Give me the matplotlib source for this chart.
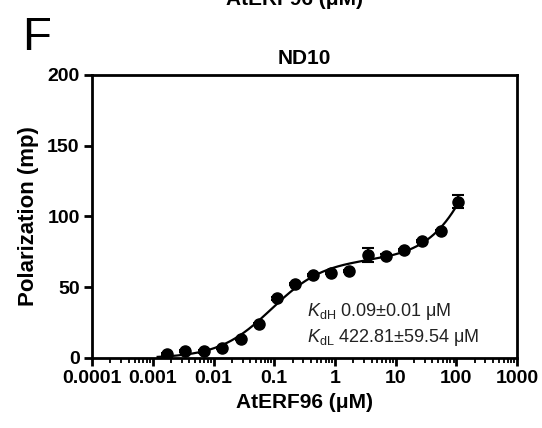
import numpy as np
import matplotlib
matplotlib.use('Agg')
import matplotlib.pyplot as plt
from matplotlib.ticker import LogLocator, NullFormatter, FixedLocator

plt.rcParams['font.family'] = ['Liberation Sans', 'DejaVu Sans']
plt.rcParams['mathtext.fontset'] = 'custom'
plt.rcParams['mathtext.rm'] = 'Liberation Sans'
plt.rcParams['mathtext.it'] = 'Liberation Sans:italic'

# data
conc = [0.00174, 0.0034, 0.0070, 0.0140, 0.0282, 0.0564, 0.110, 0.221, 0.430,
        0.855, 1.73, 3.52, 6.84, 13.5, 27.6, 55.6, 108]
polar = [2.6, 4.7, 4.5, 6.9, 13.1, 24.0, 42.0, 52.1, 58.3,
         60.1, 61.5, 72.4, 72.3, 76.0, 82.7, 89.4, 110.5]
sem = [0.8, 0.8, 0.8, 0.8, 0.8, 0.8, 0.8, 0.8, 0.8,
       0.8, 0.8, 5.0, 0.8, 0.8, 0.8, 0.8, 4.3]
kd_high = 0.09
kd_low = 422.81
xticks = [0.0001, 0.001, 0.01, 0.1, 1, 10, 100, 1000]
xtick_labels = ['0.0001', '0.001', '0.01', '0.1', '1', '10', '100', '1000']
yticks = [0, 50, 100, 150, 200]

# two-site binding curve, linear terms fitted with the Kd values fixed
x = np.array(conc)
y = np.array(polar)
M = np.column_stack([np.ones_like(x), x / (kd_high + x), x / (kd_low + x)])
coef = np.linalg.lstsq(M, y, rcond=None)[0]
xf = np.logspace(np.log10(0.0012), np.log10(115), 300)
yf = coef[0] + coef[1] * xf / (kd_high + xf) + coef[2] * xf / (kd_low + xf)

fig = plt.figure(figsize=(5.42, 4.28), dpi=100)
ax = fig.add_axes([0.170, 0.164, 0.784, 0.661])

ax.plot(xf, yf, color='black', lw=1.6, zorder=2)
ax.errorbar(conc, polar, yerr=sem, fmt='o', color='black', ms=8,
            capsize=4, elinewidth=1.5, capthick=1.5, zorder=3)

ax.set_xscale('log')
ax.set_xlim(0.0001, 1000)
ax.set_ylim(0, 200)
ax.xaxis.set_major_locator(FixedLocator(xticks))
ax.set_xticklabels(xtick_labels)
ax.xaxis.set_minor_locator(LogLocator(base=10, subs=np.arange(2, 10)))
ax.xaxis.set_minor_formatter(NullFormatter())
ax.set_yticks(yticks)

for s in ax.spines.values():
    s.set_linewidth(2)
ax.tick_params(axis='both', which='major', direction='out', length=6,
               width=2, labelsize=14, pad=3)
ax.tick_params(axis='x', which='minor', direction='out', length=3.5, width=1.3)
for lab in ax.get_xticklabels() + ax.get_yticklabels():
    lab.set_fontweight('bold')

ax.set_title('ND10', fontsize=15, fontweight='bold', pad=8)
ax.set_xlabel('AtERF96 (\u03bcM)', fontsize=15, fontweight='bold', labelpad=4)
ax.set_ylabel('Polarization (mp)', fontsize=16, fontweight='bold', labelpad=6)

ax.text(0.505, 0.165, '$K_{\\mathrm{dH}}$ 0.09\u00b10.01 \u03bcM', transform=ax.transAxes,
        fontsize=13, ha='left', va='center', color='#222222')
ax.text(0.505, 0.073, '$K_{\\mathrm{dL}}$ 422.81\u00b159.54 \u03bcM', transform=ax.transAxes,
        fontsize=13, ha='left', va='center', color='#222222')

fig.text(0.04, 0.883, 'F', fontsize=34, ha='left', va='baseline')
# remnant of the panel above, cut by the top edge as in the source figure
fig.text(0.543, 0.988, 'AtERF96 (\u03bcM)', fontsize=15, fontweight='bold',
         ha='center', va='baseline')

fig.savefig('out.png', dpi=100)
